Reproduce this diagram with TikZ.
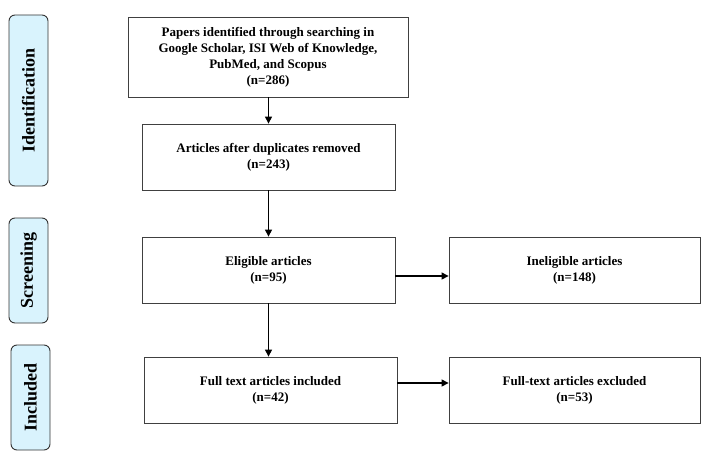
\documentclass[tikz,border=0pt]{standalone}
\usepackage{fontspec}
\setmainfont{Liberation Serif}
\usetikzlibrary{arrows.meta}
\begin{document}
\begin{tikzpicture}[x=1pt,y=-1pt,
 box/.style={draw=black!75,line width=0.8pt,align=center,font=\bfseries\fontsize{13}{16}\selectfont,inner sep=0pt},
 stage/.style={draw=black!80,line width=0.9pt,fill=cyan!15,rounded corners=6pt,font=\bfseries\fontsize{18}{20}\selectfont,inner sep=0pt},
 arr/.style={-{Triangle[length=7pt,width=7pt]},line width=1.1pt}]
\useasboundingbox (0,0) rectangle (713,460);
\node[stage,minimum width=39pt,minimum height=171pt] (id) at (28.5,100.5) {\rotatebox{90}{Identification}};
\node[stage,minimum width=39pt,minimum height=105pt] (sc) at (28.5,270.5) {\rotatebox{90}{Screening}};
\node[stage,minimum width=39pt,minimum height=105pt] (in) at (30.5,397.5) {\rotatebox{90}{Included}};
\node[box,minimum width=280pt,minimum height=80pt] (b1) at (268,57) {Papers identified through searching in\\Google Scholar, ISI Web of Knowledge,\\PubMed, and Scopus\\(n=286)};
\node[box,minimum width=253pt,minimum height=66pt] (b2) at (268.5,157) {Articles after duplicates removed\\(n=243)};
\node[box,minimum width=253pt,minimum height=66pt] (b3) at (268.5,270) {Eligible articles\\(n=95)};
\node[box,minimum width=251pt,minimum height=66pt] (b4) at (574.5,270) {Ineligible articles\\(n=148)};
\node[box,minimum width=253pt,minimum height=66pt] (b5) at (270.5,390) {Full text articles included\\(n=42)};
\node[box,minimum width=251pt,minimum height=66pt] (b6) at (574.5,390) {Full-text articles excluded\\(n=53)};
\coordinate (a1) at (395,276);
\coordinate (a2) at (397,383);
\draw[arr] (b1.south -| b2.north) -- (b2.north);
\draw[arr] (b2) -- (b3);
\draw[arr] (b3.south) -- (b3.south |- b5.north);
\draw[arr] (a1) -- (a1 -| b4.west);
\draw[arr] (a2) -- (a2 -| b6.west);
\end{tikzpicture}
\end{document}
